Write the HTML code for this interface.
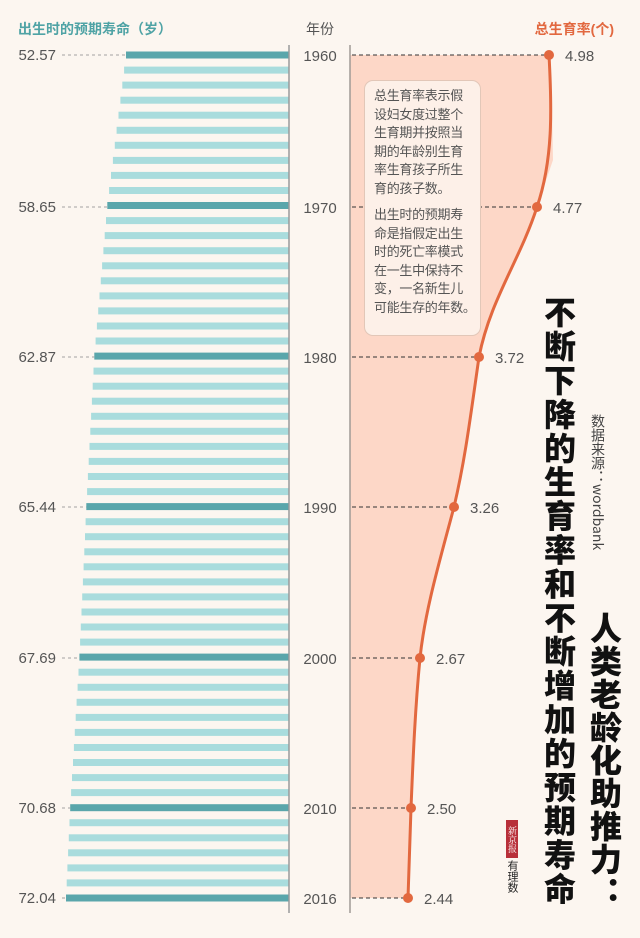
<!DOCTYPE html>
<html><head><meta charset="utf-8">
<style>
html,body{margin:0;padding:0;background:#fcf6f0;}
body{width:640px;height:938px;overflow:hidden;position:relative;font-family:"Liberation Sans","Noto Sans CJK SC",sans-serif;}
.note{position:absolute;left:364px;top:80px;width:100px;height:240px;padding:6px 6px 8px 9px;border:1px solid #e2c7b8;border-radius:9px;background:#fdf0e8;font-size:13px;line-height:18.5px;color:#555;white-space:nowrap;letter-spacing:-0.3px;}
.vt{position:absolute;writing-mode:vertical-rl;font-family:"Noto Sans CJK SC",sans-serif;}
</style></head><body>
<svg id="s" width="640" height="938" style="position:absolute;left:0;top:0" font-family="Liberation Sans, Noto Sans CJK SC, sans-serif"></svg>
<div class="note">总生育率表示假<br>设妇女度过整个<br>生育期并按照当<br>期的年龄别生育<br>率生育孩子所生<br>育的孩子数。<div style="height:8px"></div>出生时的预期寿<br>命是指假定出生<br>时的死亡率模式<br>在一生中保持不<br>变，一名新生儿<br>可能生存的年数。</div>
<div class="vt" style="left:538px;top:296px;font-size:32px;font-weight:900;line-height:44px;letter-spacing:1.9px;color:#111;">不断下降的生育率和不断增加的预期寿命</div>
<div class="vt" style="left:584px;top:612px;font-size:32px;font-weight:900;line-height:44px;letter-spacing:1px;color:#111;">人类老龄化助推力：</div>
<div class="vt" style="left:589px;top:414px;font-size:14px;line-height:18px;color:#444;">数据来源：wordbank</div>
<div style="position:absolute;left:506px;top:820px;width:12px;height:38px;background:#b8303a;color:#fff;font-size:9px;line-height:12px;text-align:center;writing-mode:vertical-rl;font-family:'Noto Serif CJK SC',serif;">新京报</div>
<div class="vt" style="left:505px;top:860px;font-size:11px;color:#222;">有理数</div>
<script>
var s=document.getElementById('s'),h='';
var Y0=55,dy=(898-55)/56;
var le=[[1960,52.57],[1970,58.65],[1980,62.87],[1990,65.44],[2000,67.69],[2010,70.68],[2016,72.04]];
function lx(v){return 126+(v-52.57)*(66-126)/(72.04-52.57);}
for(var y=1960;y<=2016;y++){
 var i=0;while(i<le.length-2&&y>le[i+1][0])i++;
 var a=le[i],b=le[i+1],v=a[1]+(b[1]-a[1])*(y-a[0])/(b[0]-a[0]);
 var yy=Y0+(y-1960)*dy,x=lx(v),big=(y%10==0||y==2016);
 h+='<rect x="'+x.toFixed(1)+'" y="'+(yy-3.5).toFixed(1)+'" width="'+(289-x).toFixed(1)+'" height="7" fill="'+(big?'#5aa6ab':'#a9dcdd')+'"/>';
}
var pts=[[549,55],[537,207],[479,357],[454,507],[420,658],[411,808],[408,898]];
var d='M549,55 C552,110 553,160 537,207 C520,260 490,300 479,357 C470,420 465,460 454,507 C440,560 425,610 420,658 C415,710 413,760 411,808 L408,898';
h+='<path d="M350,55 L549,55 '+d.slice(9)+' L350,898 Z" fill="#fdd7c7"/>';
h+='<line x1="289" y1="45" x2="289" y2="913" stroke="#9a9a9a" stroke-width="1.5"/>';
h+='<line x1="350" y1="45" x2="350" y2="913" stroke="#a09a96" stroke-width="1.5"/>';
var yrs=['1960','1970','1980','1990','2000','2010','2016'],tf=['4.98','4.77','3.72','3.26','2.67','2.50','2.44'];
for(var k=0;k<7;k++){
 var l=le[k],yy=pts[k][1],x=lx(l[1]);
 h+='<line x1="62" y1="'+yy+'" x2="'+x.toFixed(1)+'" y2="'+yy+'" stroke="#888" stroke-dasharray="3,3" stroke-width="0.8"/>';
 h+='<text x="56" y="'+(yy+5)+'" font-size="15" fill="#555" text-anchor="end">'+l[1].toFixed(2)+'</text>';
 h+='<text x="320" y="'+(yy+6)+'" font-size="15" fill="#555" text-anchor="middle">'+yrs[k]+'</text>';
 h+='<line x1="352" y1="'+yy+'" x2="'+pts[k][0]+'" y2="'+yy+'" stroke="#333" stroke-dasharray="4,3" stroke-width="1"/>';
 h+='<text x="'+(pts[k][0]+16)+'" y="'+(yy+6)+'" font-size="15" fill="#555">'+tf[k]+'</text>';
}
h+='<path d="'+d+'" fill="none" stroke="#e2683f" stroke-width="3"/>';
for(var k=0;k<7;k++)h+='<circle cx="'+pts[k][0]+'" cy="'+pts[k][1]+'" r="5" fill="#e2683f"/>';
h+='<text x="18" y="34" font-size="14" font-weight="bold" fill="#4fa3a5">出生时的预期寿命（岁）</text>';
h+='<text x="320" y="34" font-size="14" fill="#555" text-anchor="middle">年份</text>';
h+='<text x="614" y="34" font-size="14" font-weight="bold" fill="#e2683f" text-anchor="end">总生育率(个)</text>';
s.innerHTML=h;
</script>
</body></html>
